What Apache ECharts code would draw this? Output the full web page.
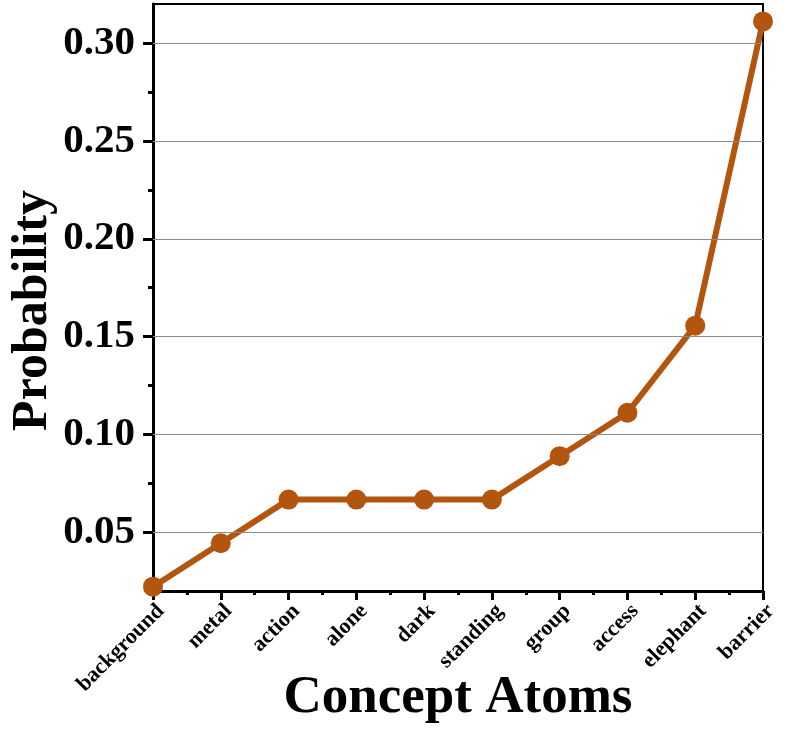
<!DOCTYPE html>
<html>
<head>
<meta charset="utf-8">
<script src="https://cdn.jsdelivr.net/npm/echarts@6/dist/echarts.min.js"></script>
<style>
  html, body { margin: 0; padding: 0; background: #fff; }
  #main { width: 789px; height: 731px; }
</style>
</head>
<body>
<div id="main"></div>
<script>
// concept atoms, sorted by probability
var atoms = ['background', 'metal', 'action', 'alone', 'dark', 'standing', 'group', 'access', 'elephant', 'barrier'];
var probs = [0.0222, 0.0444, 0.0667, 0.0667, 0.0667, 0.0667, 0.0889, 0.1111, 0.1556, 0.3111];
var yMajor = [0.05, 0.10, 0.15, 0.20, 0.25, 0.30];
var yMinor = [0.025, 0.075, 0.125, 0.175, 0.225, 0.275];

var font = 'Liberation Serif, Times New Roman, serif';
var lineColor = '#b3540f';

var chart = echarts.init(document.getElementById('main'), null, { renderer: 'canvas' });

chart.setOption({
  backgroundColor: '#fff',
  animation: false,
  grid: {
    left: 153, right: 26, top: 4, bottom: 140,
    outerBoundsMode: 'none',
    containLabel: false,
    show: true, borderColor: '#000', borderWidth: 2, backgroundColor: 'transparent'
  },
  xAxis: [{
    type: 'category',
    data: atoms,
    boundaryGap: false,
    name: 'Concept Atoms',
    nameLocation: 'middle',
    nameGap: 107,
    nameMoveOverlap: false,
    nameTextStyle: { fontFamily: font, fontWeight: 'bold', fontSize: 53, color: '#000', verticalAlign: 'middle' },
    axisLine: { lineStyle: { color: '#000', width: 3 } },
    axisTick: { show: true, length: 9, lineStyle: { color: '#000', width: 3 } },
    axisLabel: {
      rotate: 45, margin: 9, interval: 0, verticalAlign: 'top',
      fontFamily: font, fontWeight: 'bold', fontSize: 22, color: '#000'
    },
    splitLine: { show: false }
  }, {
    // minor ticks between categories
    type: 'value',
    position: 'bottom',
    min: 0, max: atoms.length - 1, interval: 0.5,
    axisLine: { show: false },
    axisTick: { show: true, length: 4, lineStyle: { color: '#000', width: 3 } },
    axisLabel: { show: false },
    splitLine: { show: false }
  }],
  yAxis: [{
    type: 'value',
    min: 0.02, max: 0.32,
    name: 'Probability',
    nameLocation: 'middle',
    nameGap: 120,
    nameMoveOverlap: false,
    nameTextStyle: {
      fontFamily: font, fontWeight: 'bold', fontSize: 50, color: '#000',
      verticalAlign: 'middle', padding: [0, 26, 0, 0]
    },
    axisLine: { show: true, lineStyle: { color: '#000', width: 3 } },
    axisTick: { show: true, length: 10, customValues: yMajor, lineStyle: { color: '#000', width: 3 } },
    axisLabel: {
      customValues: yMajor, margin: 18,
      fontFamily: font, fontWeight: 'bold', fontSize: 41, color: '#000',
      formatter: function (v) { return v.toFixed(2); }
    },
    splitLine: { show: false }
  }, {
    type: 'value',
    position: 'left',
    min: 0.02, max: 0.32,
    axisLine: { show: false },
    axisTick: { show: true, length: 5, customValues: yMinor, lineStyle: { color: '#000', width: 3 } },
    axisLabel: { show: false },
    splitLine: { show: false }
  }],
  series: [{
    type: 'line',
    data: probs,
    symbol: 'circle',
    symbolSize: 20,
    clip: true,
    lineStyle: { color: lineColor, width: 6 },
    itemStyle: { color: lineColor },
    markLine: {
      silent: true,
      symbol: 'none',
      label: { show: false },
      lineStyle: { color: '#8c8c8c', width: 1, type: 'solid' },
      data: yMajor.map(function (v) { return { yAxis: v }; })
    },
    z: 3
  }]
});
</script>
</body>
</html>
